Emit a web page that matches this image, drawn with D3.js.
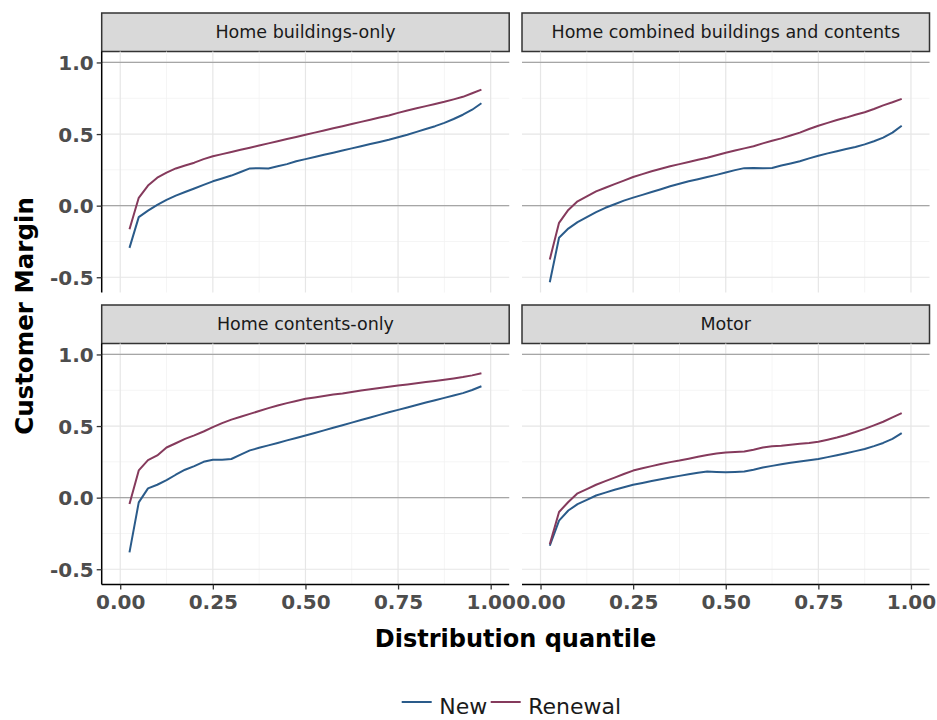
<!DOCTYPE html>
<html>
<head>
<meta charset="utf-8">
<script src="https://cdn.jsdelivr.net/npm/d3@7"></script>
<style>
  body { margin: 0; background: #fff; }
  svg { display: block; font-family: "DejaVu Sans", sans-serif; }
</style>
</head>
<body>
<script>
const WIDTH = 937;
const HEIGHT = 720;

const quantiles = [0.025, 0.05, 0.075, 0.1, 0.125, 0.15, 0.175, 0.2, 0.225, 0.25,
  0.275, 0.3, 0.325, 0.35, 0.375, 0.4, 0.425, 0.45, 0.475, 0.5,
  0.525, 0.55, 0.575, 0.6, 0.625, 0.65, 0.675, 0.7, 0.725, 0.75,
  0.775, 0.8, 0.825, 0.85, 0.875, 0.9, 0.925, 0.95, 0.975];

const panels = ["Home buildings-only", "Home combined buildings and contents", "Home contents-only", "Motor"];
const seriesNames = ["New", "Renewal"];
const seriesColors = ["#2a5b8a", "#853a5c"];

const buildingsNew = [-0.295, -0.08, -0.035, 0.005, 0.04, 0.07, 0.095, 0.12, 0.145, 0.17,
  0.19, 0.21, 0.235, 0.26, 0.262, 0.26, 0.275, 0.29, 0.31, 0.325,
  0.34, 0.355, 0.37, 0.385, 0.4, 0.415, 0.43, 0.445, 0.46, 0.478,
  0.495, 0.515, 0.535, 0.555, 0.578, 0.605, 0.635, 0.67, 0.715];
const buildingsRenewal = [-0.165, 0.055, 0.14, 0.195, 0.23, 0.26, 0.28, 0.3, 0.325, 0.345,
  0.36, 0.375, 0.39, 0.405, 0.42, 0.435, 0.45, 0.465, 0.48, 0.495,
  0.51, 0.525, 0.54, 0.555, 0.57, 0.585, 0.6, 0.615, 0.63, 0.648,
  0.665, 0.68, 0.695, 0.71, 0.725, 0.742, 0.76, 0.785, 0.81];

const combinedNew = [-0.535, -0.224, -0.16, -0.115, -0.08, -0.045, -0.015, 0.01, 0.035, 0.056,
  0.075, 0.095, 0.115, 0.135, 0.153, 0.17, 0.185, 0.2, 0.215, 0.231,
  0.248, 0.262, 0.263, 0.262, 0.263, 0.28, 0.295, 0.31, 0.33, 0.348,
  0.365, 0.38, 0.395, 0.41, 0.428, 0.45, 0.475, 0.51, 0.558];
const combinedRenewal = [-0.376, -0.12, -0.03, 0.03, 0.065, 0.1, 0.125, 0.15, 0.175, 0.2,
  0.22, 0.24, 0.258, 0.275, 0.29, 0.305, 0.32, 0.335, 0.352, 0.37,
  0.385, 0.4, 0.415, 0.435, 0.453, 0.47, 0.49, 0.51, 0.535, 0.558,
  0.578, 0.598, 0.615, 0.635, 0.652, 0.675, 0.7, 0.722, 0.746];

const contentsNew = [-0.382, -0.033, 0.065, 0.09, 0.122, 0.16, 0.195, 0.22, 0.25, 0.264,
  0.265, 0.27, 0.3, 0.33, 0.348, 0.365, 0.382, 0.4, 0.417, 0.434,
  0.452, 0.47, 0.488, 0.506, 0.524, 0.542, 0.56, 0.578, 0.596, 0.613,
  0.63, 0.647, 0.664, 0.68, 0.697, 0.714, 0.73, 0.752, 0.778];
const contentsRenewal = [-0.044, 0.19, 0.262, 0.295, 0.35, 0.38, 0.41, 0.435, 0.462, 0.492,
  0.52, 0.545, 0.565, 0.585, 0.605, 0.625, 0.643, 0.66, 0.675, 0.69,
  0.7, 0.71, 0.72, 0.728, 0.738, 0.748, 0.757, 0.766, 0.775, 0.783,
  0.791, 0.799, 0.807, 0.815, 0.823, 0.832, 0.842, 0.854, 0.869];

const motorNew = [-0.336, -0.16, -0.09, -0.045, -0.015, 0.015, 0.035, 0.055, 0.073, 0.09,
  0.103, 0.116, 0.128, 0.14, 0.152, 0.163, 0.174, 0.182, 0.18, 0.178,
  0.18, 0.183, 0.195, 0.21, 0.222, 0.233, 0.243, 0.252, 0.261, 0.27,
  0.283, 0.296, 0.31, 0.325, 0.34, 0.36, 0.382, 0.41, 0.45];
const motorRenewal = [-0.325, -0.1, -0.03, 0.03, 0.06, 0.09, 0.115, 0.14, 0.165, 0.189,
  0.205, 0.22, 0.235, 0.248, 0.259, 0.272, 0.285, 0.298, 0.308, 0.315,
  0.318, 0.322, 0.335, 0.35, 0.359, 0.362, 0.37, 0.376, 0.382, 0.39,
  0.405, 0.42, 0.438, 0.458, 0.48, 0.505, 0.53, 0.56, 0.59];

const panelSeries = [
  [buildingsNew, buildingsRenewal],
  [combinedNew, combinedRenewal],
  [contentsNew, contentsRenewal],
  [motorNew, motorRenewal]
];

const xTicks = [0, 0.25, 0.5, 0.75, 1];
const xMinor = [0.125, 0.375, 0.625, 0.875];
const yTicks = [-0.5, 0, 0.5, 1];
const yMinor = [-0.25, 0.25, 0.75];
const refLines = [0, 1];

// layout
const COLS = [101.7, 522];
const PANEL_W = 407.5;
const ROWS = [13, 305];
const STRIP_H = 38.5;
const PANEL_H = 241;

const svg = d3.select("body").append("svg")
  .attr("width", WIDTH)
  .attr("height", HEIGHT);

const x = d3.scaleLinear().domain([-0.05, 1.05]).range([0, PANEL_W]);
const y = d3.scaleLinear().domain([-0.6065, 1.0765]).range([PANEL_H, 0]);

const line = d3.line()
  .x((d) => x(d[0]))
  .y((d) => y(d[1]));

panels.forEach((title, i) => {
  const col = i % 2;
  const row = Math.floor(i / 2);
  const left = COLS[col];
  const top = ROWS[row];

  const strip = svg.append("g").attr("transform", `translate(${left},${top})`);
  strip.append("rect")
    .attr("width", PANEL_W)
    .attr("height", STRIP_H)
    .attr("fill", "#d9d9d9")
    .attr("stroke", "#333")
    .attr("stroke-width", 1.5);
  strip.append("text")
    .attr("x", PANEL_W / 2)
    .attr("y", STRIP_H / 2 + 6)
    .attr("text-anchor", "middle")
    .attr("font-size", "17.5px")
    .attr("fill", "#1a1a1a")
    .text(title);

  const g = svg.append("g").attr("transform", `translate(${left},${top + STRIP_H})`);

  g.selectAll(".ymin").data(yMinor).join("line")
    .attr("x1", 0).attr("x2", PANEL_W)
    .attr("y1", (d) => y(d)).attr("y2", (d) => y(d))
    .attr("stroke", "#f2f2f2").attr("stroke-width", 0.8);
  g.selectAll(".xmin").data(xMinor).join("line")
    .attr("y1", 0).attr("y2", PANEL_H)
    .attr("x1", (d) => x(d)).attr("x2", (d) => x(d))
    .attr("stroke", "#f2f2f2").attr("stroke-width", 0.8);
  g.selectAll(".ymaj").data(yTicks).join("line")
    .attr("x1", 0).attr("x2", PANEL_W)
    .attr("y1", (d) => y(d)).attr("y2", (d) => y(d))
    .attr("stroke", "#e6e6e6").attr("stroke-width", 1.2);
  g.selectAll(".xmaj").data(xTicks).join("line")
    .attr("y1", 0).attr("y2", PANEL_H)
    .attr("x1", (d) => x(d)).attr("x2", (d) => x(d))
    .attr("stroke", "#e6e6e6").attr("stroke-width", 1.2);

  g.selectAll(".ref").data(refLines).join("line")
    .attr("x1", 0).attr("x2", PANEL_W)
    .attr("y1", (d) => y(d)).attr("y2", (d) => y(d))
    .attr("stroke", "#a6a6a6").attr("stroke-width", 1.3);

  panelSeries[i].forEach((values, s) => {
    g.append("path")
      .datum(quantiles.map((q, k) => [q, values[k]]))
      .attr("fill", "none")
      .attr("stroke", seriesColors[s])
      .attr("stroke-width", 2)
      .attr("stroke-linejoin", "round")
      .attr("d", line);
  });

  if (col === 0) {
    const yAxis = g.append("g")
      .call(d3.axisLeft(y).tickValues(yTicks).tickFormat(d3.format(".1f")).tickSize(5).tickPadding(3));
    yAxis.select(".domain").attr("d", `M0,0V${PANEL_H}`).attr("stroke", "#000").attr("stroke-width", 1.5);
    yAxis.selectAll(".tick line").attr("stroke", "#333").attr("stroke-width", 1.3);
    yAxis.selectAll(".tick text")
      .attr("font-family", "DejaVu Sans")
      .attr("font-size", "20px")
      .attr("font-weight", "bold")
      .attr("fill", "#4d4d4d")
      .attr("dy", "0.36em")
      .text((d) => d3.format(".1f")(d).replace("−", "-"));
  }

  if (row === 1) {
    const xAxis = g.append("g")
      .attr("transform", `translate(0,${PANEL_H})`)
      .call(d3.axisBottom(x).tickValues(xTicks).tickFormat(d3.format(".2f")).tickSize(5).tickPadding(5));
    xAxis.select(".domain").attr("d", `M0,0H${PANEL_W}`).attr("stroke", "#000").attr("stroke-width", 1.5);
    xAxis.selectAll(".tick line").attr("stroke", "#333").attr("stroke-width", 1.3);
    xAxis.selectAll(".tick text")
      .attr("font-family", "DejaVu Sans")
      .attr("font-size", "20px")
      .attr("font-weight", "bold")
      .attr("fill", "#4d4d4d")
      .attr("dy", "0.72em");
  }
});

// axis titles
svg.append("text")
  .attr("x", (COLS[0] + COLS[1] + PANEL_W) / 2)
  .attr("y", 646.5)
  .attr("text-anchor", "middle")
  .attr("font-size", "24px")
  .attr("font-weight", "bold")
  .attr("fill", "#000")
  .text("Distribution quantile");

svg.append("text")
  .attr("transform", "translate(32.5,316) rotate(-90)")
  .attr("text-anchor", "middle")
  .attr("font-size", "24.5px")
  .attr("font-weight", "bold")
  .attr("fill", "#000")
  .text("Customer Margin");

// legend
const legend = svg.append("g");
let lx = 401.7;
seriesNames.forEach((name, s) => {
  legend.append("line")
    .attr("x1", lx).attr("x2", lx + 30)
    .attr("y1", 702).attr("y2", 702)
    .attr("stroke", seriesColors[s])
    .attr("stroke-width", 2);
  const t = legend.append("text")
    .attr("x", lx + 37.5)
    .attr("y", 713.5)
    .attr("font-size", "22px")
    .attr("fill", "#1a1a1a")
    .text(name);
  lx += 37.5 + t.node().getComputedTextLength() + 3.5;
});
</script>
</body>
</html>
